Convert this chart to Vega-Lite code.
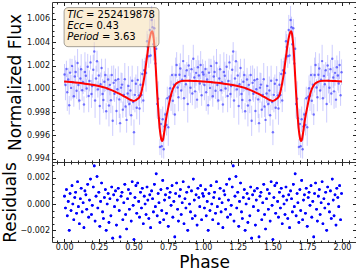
{
"$schema": "https://vega.github.io/schema/vega-lite/v6.json",
"background": "white",
"padding": {"left": 0, "top": 1, "right": 1, "bottom": 0},
"spacing": 0,
"bounds": "flush",
"config": {
  "font": "DejaVu Sans",
  "view": {"stroke": "#333", "strokeWidth": 1},
  "axis": {"domain": false, "grid": false, "labelFont": "DejaVu Sans", "labelFontSize": 8, "labelColor": "#111", "tickColor": "#222", "tickSize": -3, "labelPadding": 6, "labelOverlap": false, "titleFont": "DejaVu Sans", "titleFontSize": 17, "titleFontWeight": "normal", "titleColor": "#000"}
},
"datasets": {
  "obs": [
{"p":0.003,"f":1.00123,"e":0.0009,"r":0.0006},{"p":0.010,"f":1.00032,"e":0.0013,"r":-0.0003},{"p":0.017,"f":1.00171,"e":0.0007,"r":0.0011},{"p":0.023,"f":0.99970,"e":0.0016,"r":-0.0009},{"p":0.030,"f":1.00080,"e":0.0010,"r":0.0002},{"p":0.037,"f":0.99859,"e":0.0008,"r":-0.0020},{"p":0.043,"f":1.00139,"e":0.0012,"r":0.0008},{"p":0.050,"f":1.00008,"e":0.0011,"r":-0.0005},{"p":0.057,"f":1.00197,"e":0.0006,"r":0.0014},{"p":0.063,"f":1.00056,"e":0.0014,"r":0.0},
{"p":0.070,"f":0.99936,"e":0.0009,"r":-0.0012},{"p":0.077,"f":1.00105,"e":0.0018,"r":0.0005},{"p":0.083,"f":1.00144,"e":0.0010,"r":0.0009},{"p":0.090,"f":0.99983,"e":0.0007,"r":-0.0007},{"p":0.097,"f":1.00222,"e":0.0012,"r":0.0017},{"p":0.103,"f":1.00032,"e":0.0015,"r":-0.0002},{"p":0.110,"f":0.99900,"e":0.0008,"r":-0.0015},{"p":0.117,"f":1.00089,"e":0.0011,"r":0.0004},{"p":0.123,"f":1.00168,"e":0.0013,"r":0.0012},{"p":0.130,"f":0.99987,"e":0.0009,"r":-0.0006},
{"p":0.137,"f":1.00056,"e":0.0010,"r":0.0001},{"p":0.143,"f":0.99865,"e":0.0007,"r":-0.0018},{"p":0.150,"f":1.00144,"e":0.0017,"r":0.0010},{"p":0.157,"f":1.00113,"e":0.0012,"r":0.0007},{"p":0.163,"f":1.00002,"e":0.0008,"r":-0.0004},{"p":0.170,"f":1.00190,"e":0.0011,"r":0.0015},{"p":0.177,"f":0.99939,"e":0.0014,"r":-0.0010},{"p":0.183,"f":1.00068,"e":0.0009,"r":0.0003},{"p":0.190,"f":1.00227,"e":0.0006,"r":0.0019},{"p":0.197,"f":0.99956,"e":0.0012,"r":-0.0008},
{"p":0.203,"f":1.00024,"e":0.0010,"r":-0.0001},{"p":0.210,"f":1.00163,"e":0.0013,"r":0.0013},{"p":0.217,"f":1.00321,"e":0.0008,"r":0.0029},{"p":0.223,"f":0.99900,"e":0.0015,"r":-0.0013},{"p":0.230,"f":1.00088,"e":0.0011,"r":0.0006},{"p":0.237,"f":1.00237,"e":0.0009,"r":0.0021},{"p":0.243,"f":0.99995,"e":0.0007,"r":-0.0003},{"p":0.250,"f":1.00114,"e":0.0012,"r":0.0009},{"p":0.257,"f":0.99852,"e":0.0016,"r":-0.0017},{"p":0.263,"f":1.00040,"e":0.0010,"r":0.0002},
{"p":0.270,"f":1.00178,"e":0.0008,"r":0.0016},{"p":0.277,"f":0.99955,"e":0.0013,"r":-0.0006},{"p":0.283,"f":0.99903,"e":0.0011,"r":-0.0011},{"p":0.290,"f":1.00061,"e":0.0009,"r":0.0005},{"p":0.297,"f":1.00119,"e":0.0014,"r":0.0011},{"p":0.303,"f":0.99807,"e":0.0007,"r":-0.0020},{"p":0.310,"f":1.00003,"e":0.0012,"r":0.0},{"p":0.317,"f":1.00080,"e":0.0010,"r":0.0008},{"p":0.323,"f":0.99857,"e":0.0018,"r":-0.0014},{"p":0.330,"f":1.00034,"e":0.0009,"r":0.0004},
{"p":0.337,"f":0.99901,"e":0.0011,"r":-0.0009},{"p":0.343,"f":1.00118,"e":0.0008,"r":0.0013},{"p":0.350,"f":0.99725,"e":0.0013,"r":-0.0026},{"p":0.357,"f":1.00051,"e":0.0015,"r":0.0007},{"p":0.363,"f":0.99958,"e":0.0007,"r":-0.0002},{"p":0.370,"f":1.00074,"e":0.0010,"r":0.0010},{"p":0.377,"f":0.99810,"e":0.0012,"r":-0.0016},{"p":0.383,"f":0.99997,"e":0.0009,"r":0.0003},{"p":0.390,"f":1.00083,"e":0.0011,"r":0.0012},{"p":0.397,"f":0.99909,"e":0.0016,"r":-0.0005},
{"p":0.403,"f":0.99705,"e":0.0008,"r":-0.0025},{"p":0.410,"f":1.00010,"e":0.0013,"r":0.0006},{"p":0.417,"f":1.00036,"e":0.0010,"r":0.0009},{"p":0.423,"f":0.99821,"e":0.0007,"r":-0.0012},{"p":0.430,"f":0.99947,"e":0.0012,"r":0.0001},{"p":0.437,"f":1.00082,"e":0.0014,"r":0.0015},{"p":0.443,"f":0.99848,"e":0.0009,"r":-0.0008},{"p":0.450,"f":0.99733,"e":0.0011,"r":-0.0019},{"p":0.457,"f":0.99959,"e":0.0008,"r":0.0004},{"p":0.463,"f":1.00025,"e":0.0017,"r":0.0011},
{"p":0.470,"f":0.99870,"e":0.0010,"r":-0.0004},{"p":0.477,"f":0.99986,"e":0.0012,"r":0.0008},{"p":0.483,"f":0.99773,"e":0.0009,"r":-0.0013},{"p":0.490,"f":1.00069,"e":0.0013,"r":0.0017},{"p":0.497,"f":0.99887,"e":0.0007,"r":-0.0001},{"p":0.503,"f":0.99626,"e":0.0011,"r":-0.0027},{"p":0.510,"f":0.99948,"e":0.0015,"r":0.0005},{"p":0.517,"f":1.00043,"e":0.0008,"r":0.0014},{"p":0.523,"f":0.99838,"e":0.0010,"r":-0.0007},{"p":0.530,"f":1.00075,"e":0.0012,"r":0.0016},
{"p":0.537,"f":0.99942,"e":0.0009,"r":0.0002},{"p":0.543,"f":0.99831,"e":0.0014,"r":-0.0010},{"p":0.550,"f":1.00035,"e":0.0011,"r":0.0009},{"p":0.557,"f":0.99946,"e":0.0007,"r":-0.0003},{"p":0.563,"f":1.00128,"e":0.0013,"r":0.0012},{"p":0.570,"f":0.99900,"e":0.0010,"r":-0.0015},{"p":0.577,"f":1.00159,"e":0.0008,"r":0.0006},{"p":0.583,"f":1.00148,"e":0.0012,"r":0.0},{"p":0.590,"f":1.00135,"e":0.0016,"r":-0.0008},{"p":0.597,"f":1.00408,"e":0.0009,"r":0.0013},
{"p":0.603,"f":1.00360,"e":0.0011,"r":0.0003},{"p":0.610,"f":1.00280,"e":0.0010,"r":-0.0011},{"p":0.617,"f":1.00505,"e":0.0013,"r":0.0007},{"p":0.623,"f":1.00286,"e":0.0007,"r":-0.0018},{"p":0.630,"f":1.00592,"e":0.0012,"r":0.0010},{"p":0.637,"f":1.00530,"e":0.0009,"r":0.0004},{"p":0.643,"f":1.00383,"e":0.0014,"r":-0.0006},{"p":0.650,"f":1.00520,"e":0.0008,"r":0.0015},{"p":0.657,"f":1.00217,"e":0.0011,"r":-0.0002},{"p":0.663,"f":1.00344,"e":0.0010,"r":0.0023},
{"p":0.670,"f":0.99870,"e":0.0012,"r":-0.0009},{"p":0.677,"f":0.99914,"e":0.0015,"r":0.0008},{"p":0.683,"f":0.99748,"e":0.0009,"r":0.0001},{"p":0.690,"f":0.99500,"e":0.0007,"r":-0.0014},{"p":0.697,"f":0.99697,"e":0.0013,"r":0.0011},{"p":0.703,"f":0.99507,"e":0.0010,"r":-0.0005},{"p":0.710,"f":0.99738,"e":0.0011,"r":0.0018},{"p":0.717,"f":0.99481,"e":0.0008,"r":-0.0012},{"p":0.723,"f":0.99677,"e":0.0012,"r":0.0003},{"p":0.730,"f":0.99780,"e":0.0014,"r":0.0007},
{"p":0.737,"f":0.99689,"e":0.0009,"r":-0.0007},{"p":0.743,"f":0.99918,"e":0.0010,"r":0.0012},{"p":0.750,"f":0.99670,"e":0.0016,"r":-0.0017},{"p":0.757,"f":0.99932,"e":0.0007,"r":0.0005},{"p":0.763,"f":1.00005,"e":0.0011,"r":0.0009},{"p":0.770,"f":0.99940,"e":0.0013,"r":-0.0001},{"p":0.777,"f":1.00118,"e":0.0008,"r":0.0014},{"p":0.783,"f":0.99897,"e":0.0012,"r":-0.0010},{"p":0.790,"f":1.00035,"e":0.0010,"r":0.0002},{"p":0.797,"f":0.99779,"e":0.0009,"r":-0.0025},
{"p":0.803,"f":1.00118,"e":0.0015,"r":0.0008},{"p":0.810,"f":1.00205,"e":0.0011,"r":0.0016},{"p":0.817,"f":1.00012,"e":0.0007,"r":-0.0004},{"p":0.823,"f":0.99927,"e":0.0012,"r":-0.0013},{"p":0.830,"f":1.00121,"e":0.0010,"r":0.0006},{"p":0.837,"f":1.00174,"e":0.0013,"r":0.0011},{"p":0.843,"f":0.99986,"e":0.0008,"r":-0.0008},{"p":0.850,"f":1.00077,"e":0.0009,"r":0.0001},{"p":0.857,"f":1.00238,"e":0.0014,"r":0.0017},{"p":0.863,"f":0.99919,"e":0.0011,"r":-0.0015},
{"p":0.870,"f":1.00110,"e":0.0010,"r":0.0004},{"p":0.877,"f":1.00040,"e":0.0012,"r":-0.0003},{"p":0.883,"f":1.00160,"e":0.0007,"r":0.0009},{"p":0.890,"f":0.99870,"e":0.0016,"r":-0.0020},{"p":0.897,"f":1.00200,"e":0.0009,"r":0.0013},{"p":0.903,"f":1.00070,"e":0.0011,"r":0.0},{"p":0.910,"f":1.00009,"e":0.0013,"r":-0.0006},{"p":0.917,"f":1.00169,"e":0.0008,"r":0.0010},{"p":0.923,"f":0.99959,"e":0.0010,"r":-0.0011},{"p":0.930,"f":1.00258,"e":0.0012,"r":0.0019},
{"p":0.937,"f":1.00098,"e":0.0009,"r":0.0003},{"p":0.943,"f":0.99978,"e":0.0015,"r":-0.0009},{"p":0.950,"f":1.00137,"e":0.0011,"r":0.0007},{"p":0.957,"f":0.99907,"e":0.0007,"r":-0.0016},{"p":0.963,"f":1.00186,"e":0.0010,"r":0.0012},{"p":0.970,"f":1.00115,"e":0.0013,"r":0.0005},{"p":0.977,"f":1.00045,"e":0.0008,"r":-0.0002},{"p":0.983,"f":1.00204,"e":0.0012,"r":0.0014},{"p":0.990,"f":0.99944,"e":0.0009,"r":-0.0012},{"p":0.997,"f":1.00143,"e":0.0011,"r":0.0008},
{"p":1.003,"f":1.00123,"e":0.0009,"r":0.0006},{"p":1.010,"f":1.00032,"e":0.0013,"r":-0.0003},{"p":1.017,"f":1.00171,"e":0.0007,"r":0.0011},{"p":1.023,"f":0.99970,"e":0.0016,"r":-0.0009},{"p":1.030,"f":1.00080,"e":0.0010,"r":0.0002},{"p":1.037,"f":0.99859,"e":0.0008,"r":-0.0020},{"p":1.043,"f":1.00139,"e":0.0012,"r":0.0008},{"p":1.050,"f":1.00008,"e":0.0011,"r":-0.0005},{"p":1.057,"f":1.00197,"e":0.0006,"r":0.0014},{"p":1.063,"f":1.00056,"e":0.0014,"r":0.0},
{"p":1.070,"f":0.99936,"e":0.0009,"r":-0.0012},{"p":1.077,"f":1.00105,"e":0.0018,"r":0.0005},{"p":1.083,"f":1.00144,"e":0.0010,"r":0.0009},{"p":1.090,"f":0.99983,"e":0.0007,"r":-0.0007},{"p":1.097,"f":1.00222,"e":0.0012,"r":0.0017},{"p":1.103,"f":1.00032,"e":0.0015,"r":-0.0002},{"p":1.110,"f":0.99900,"e":0.0008,"r":-0.0015},{"p":1.117,"f":1.00089,"e":0.0011,"r":0.0004},{"p":1.123,"f":1.00168,"e":0.0013,"r":0.0012},{"p":1.130,"f":0.99987,"e":0.0009,"r":-0.0006},
{"p":1.137,"f":1.00056,"e":0.0010,"r":0.0001},{"p":1.143,"f":0.99865,"e":0.0007,"r":-0.0018},{"p":1.150,"f":1.00144,"e":0.0017,"r":0.0010},{"p":1.157,"f":1.00113,"e":0.0012,"r":0.0007},{"p":1.163,"f":1.00002,"e":0.0008,"r":-0.0004},{"p":1.170,"f":1.00190,"e":0.0011,"r":0.0015},{"p":1.177,"f":0.99939,"e":0.0014,"r":-0.0010},{"p":1.183,"f":1.00068,"e":0.0009,"r":0.0003},{"p":1.190,"f":1.00227,"e":0.0006,"r":0.0019},{"p":1.197,"f":0.99956,"e":0.0012,"r":-0.0008},
{"p":1.203,"f":1.00024,"e":0.0010,"r":-0.0001},{"p":1.210,"f":1.00163,"e":0.0013,"r":0.0013},{"p":1.217,"f":1.00321,"e":0.0008,"r":0.0029},{"p":1.223,"f":0.99900,"e":0.0015,"r":-0.0013},{"p":1.230,"f":1.00088,"e":0.0011,"r":0.0006},{"p":1.237,"f":1.00237,"e":0.0009,"r":0.0021},{"p":1.243,"f":0.99995,"e":0.0007,"r":-0.0003},{"p":1.250,"f":1.00114,"e":0.0012,"r":0.0009},{"p":1.257,"f":0.99852,"e":0.0016,"r":-0.0017},{"p":1.263,"f":1.00040,"e":0.0010,"r":0.0002},
{"p":1.270,"f":1.00178,"e":0.0008,"r":0.0016},{"p":1.277,"f":0.99955,"e":0.0013,"r":-0.0006},{"p":1.283,"f":0.99903,"e":0.0011,"r":-0.0011},{"p":1.290,"f":1.00061,"e":0.0009,"r":0.0005},{"p":1.297,"f":1.00119,"e":0.0014,"r":0.0011},{"p":1.303,"f":0.99807,"e":0.0007,"r":-0.0020},{"p":1.310,"f":1.00003,"e":0.0012,"r":0.0},{"p":1.317,"f":1.00080,"e":0.0010,"r":0.0008},{"p":1.323,"f":0.99857,"e":0.0018,"r":-0.0014},{"p":1.330,"f":1.00034,"e":0.0009,"r":0.0004},
{"p":1.337,"f":0.99901,"e":0.0011,"r":-0.0009},{"p":1.343,"f":1.00118,"e":0.0008,"r":0.0013},{"p":1.350,"f":0.99725,"e":0.0013,"r":-0.0026},{"p":1.357,"f":1.00051,"e":0.0015,"r":0.0007},{"p":1.363,"f":0.99958,"e":0.0007,"r":-0.0002},{"p":1.370,"f":1.00074,"e":0.0010,"r":0.0010},{"p":1.377,"f":0.99810,"e":0.0012,"r":-0.0016},{"p":1.383,"f":0.99997,"e":0.0009,"r":0.0003},{"p":1.390,"f":1.00083,"e":0.0011,"r":0.0012},{"p":1.397,"f":0.99909,"e":0.0016,"r":-0.0005},
{"p":1.403,"f":0.99705,"e":0.0008,"r":-0.0025},{"p":1.410,"f":1.00010,"e":0.0013,"r":0.0006},{"p":1.417,"f":1.00036,"e":0.0010,"r":0.0009},{"p":1.423,"f":0.99821,"e":0.0007,"r":-0.0012},{"p":1.430,"f":0.99947,"e":0.0012,"r":0.0001},{"p":1.437,"f":1.00082,"e":0.0014,"r":0.0015},{"p":1.443,"f":0.99848,"e":0.0009,"r":-0.0008},{"p":1.450,"f":0.99733,"e":0.0011,"r":-0.0019},{"p":1.457,"f":0.99959,"e":0.0008,"r":0.0004},{"p":1.463,"f":1.00025,"e":0.0017,"r":0.0011},
{"p":1.470,"f":0.99870,"e":0.0010,"r":-0.0004},{"p":1.477,"f":0.99986,"e":0.0012,"r":0.0008},{"p":1.483,"f":0.99773,"e":0.0009,"r":-0.0013},{"p":1.490,"f":1.00069,"e":0.0013,"r":0.0017},{"p":1.497,"f":0.99887,"e":0.0007,"r":-0.0001},{"p":1.503,"f":0.99626,"e":0.0011,"r":-0.0027},{"p":1.510,"f":0.99948,"e":0.0015,"r":0.0005},{"p":1.517,"f":1.00043,"e":0.0008,"r":0.0014},{"p":1.523,"f":0.99838,"e":0.0010,"r":-0.0007},{"p":1.530,"f":1.00075,"e":0.0012,"r":0.0016},
{"p":1.537,"f":0.99942,"e":0.0009,"r":0.0002},{"p":1.543,"f":0.99831,"e":0.0014,"r":-0.0010},{"p":1.550,"f":1.00035,"e":0.0011,"r":0.0009},{"p":1.557,"f":0.99946,"e":0.0007,"r":-0.0003},{"p":1.563,"f":1.00128,"e":0.0013,"r":0.0012},{"p":1.570,"f":0.99900,"e":0.0010,"r":-0.0015},{"p":1.577,"f":1.00159,"e":0.0008,"r":0.0006},{"p":1.583,"f":1.00148,"e":0.0012,"r":0.0},{"p":1.590,"f":1.00135,"e":0.0016,"r":-0.0008},{"p":1.597,"f":1.00408,"e":0.0009,"r":0.0013},
{"p":1.603,"f":1.00360,"e":0.0011,"r":0.0003},{"p":1.610,"f":1.00280,"e":0.0010,"r":-0.0011},{"p":1.617,"f":1.00505,"e":0.0013,"r":0.0007},{"p":1.623,"f":1.00286,"e":0.0007,"r":-0.0018},{"p":1.630,"f":1.00592,"e":0.0012,"r":0.0010},{"p":1.637,"f":1.00530,"e":0.0009,"r":0.0004},{"p":1.643,"f":1.00383,"e":0.0014,"r":-0.0006},{"p":1.650,"f":1.00520,"e":0.0008,"r":0.0015},{"p":1.657,"f":1.00217,"e":0.0011,"r":-0.0002},{"p":1.663,"f":1.00344,"e":0.0010,"r":0.0023},
{"p":1.670,"f":0.99870,"e":0.0012,"r":-0.0009},{"p":1.677,"f":0.99914,"e":0.0015,"r":0.0008},{"p":1.683,"f":0.99748,"e":0.0009,"r":0.0001},{"p":1.690,"f":0.99500,"e":0.0007,"r":-0.0014},{"p":1.697,"f":0.99697,"e":0.0013,"r":0.0011},{"p":1.703,"f":0.99507,"e":0.0010,"r":-0.0005},{"p":1.710,"f":0.99738,"e":0.0011,"r":0.0018},{"p":1.717,"f":0.99481,"e":0.0008,"r":-0.0012},{"p":1.723,"f":0.99677,"e":0.0012,"r":0.0003},{"p":1.730,"f":0.99780,"e":0.0014,"r":0.0007},
{"p":1.737,"f":0.99689,"e":0.0009,"r":-0.0007},{"p":1.743,"f":0.99918,"e":0.0010,"r":0.0012},{"p":1.750,"f":0.99670,"e":0.0016,"r":-0.0017},{"p":1.757,"f":0.99932,"e":0.0007,"r":0.0005},{"p":1.763,"f":1.00005,"e":0.0011,"r":0.0009},{"p":1.770,"f":0.99940,"e":0.0013,"r":-0.0001},{"p":1.777,"f":1.00118,"e":0.0008,"r":0.0014},{"p":1.783,"f":0.99897,"e":0.0012,"r":-0.0010},{"p":1.790,"f":1.00035,"e":0.0010,"r":0.0002},{"p":1.797,"f":0.99779,"e":0.0009,"r":-0.0025},
{"p":1.803,"f":1.00118,"e":0.0015,"r":0.0008},{"p":1.810,"f":1.00205,"e":0.0011,"r":0.0016},{"p":1.817,"f":1.00012,"e":0.0007,"r":-0.0004},{"p":1.823,"f":0.99927,"e":0.0012,"r":-0.0013},{"p":1.830,"f":1.00121,"e":0.0010,"r":0.0006},{"p":1.837,"f":1.00174,"e":0.0013,"r":0.0011},{"p":1.843,"f":0.99986,"e":0.0008,"r":-0.0008},{"p":1.850,"f":1.00077,"e":0.0009,"r":0.0001},{"p":1.857,"f":1.00238,"e":0.0014,"r":0.0017},{"p":1.863,"f":0.99919,"e":0.0011,"r":-0.0015},
{"p":1.870,"f":1.00110,"e":0.0010,"r":0.0004},{"p":1.877,"f":1.00040,"e":0.0012,"r":-0.0003},{"p":1.883,"f":1.00160,"e":0.0007,"r":0.0009},{"p":1.890,"f":0.99870,"e":0.0016,"r":-0.0020},{"p":1.897,"f":1.00200,"e":0.0009,"r":0.0013},{"p":1.903,"f":1.00070,"e":0.0011,"r":0.0},{"p":1.910,"f":1.00009,"e":0.0013,"r":-0.0006},{"p":1.917,"f":1.00169,"e":0.0008,"r":0.0010},{"p":1.923,"f":0.99959,"e":0.0010,"r":-0.0011},{"p":1.930,"f":1.00258,"e":0.0012,"r":0.0019},
{"p":1.937,"f":1.00098,"e":0.0009,"r":0.0003},{"p":1.943,"f":0.99978,"e":0.0015,"r":-0.0009},{"p":1.950,"f":1.00137,"e":0.0011,"r":0.0007},{"p":1.957,"f":0.99907,"e":0.0007,"r":-0.0016},{"p":1.963,"f":1.00186,"e":0.0010,"r":0.0012},{"p":1.970,"f":1.00115,"e":0.0013,"r":0.0005},{"p":1.977,"f":1.00045,"e":0.0008,"r":-0.0002},{"p":1.983,"f":1.00204,"e":0.0012,"r":0.0014},{"p":1.990,"f":0.99944,"e":0.0009,"r":-0.0012},{"p":1.997,"f":1.00143,"e":0.0011,"r":0.0008}
  ],
  "model": [
{"p":0.00,"f":1.00063},{"p":0.05,"f":1.00058},{"p":0.10,"f":1.00052},{"p":0.15,"f":1.00044},{"p":0.20,"f":1.00035},{"p":0.25,"f":1.00024},{"p":0.30,"f":1.00008},{"p":0.35,"f":0.99985},{"p":0.40,"f":0.99957},{"p":0.44,"f":0.99930},{"p":0.47,"f":0.99910},{"p":0.49,"f":0.99899},{"p":0.50,"f":0.99896},{"p":0.51,"f":0.99898},{"p":0.52,"f":0.99905},{"p":0.53,"f":0.99915},{"p":0.54,"f":0.99925},{"p":0.55,"f":0.99945},{"p":0.56,"f":0.99990},{"p":0.57,"f":1.00050},{"p":0.58,"f":1.00120},{"p":0.59,"f":1.00215},{"p":0.60,"f":1.00305},{"p":0.61,"f":1.00390},{"p":0.62,"f":1.00455},{"p":0.63,"f":1.00492},{"p":0.635,"f":1.00494},{"p":0.64,"f":1.00475},{"p":0.65,"f":1.00370},{"p":0.66,"f":1.00180},{"p":0.67,"f":0.99960},{"p":0.68,"f":0.99780},{"p":0.69,"f":0.99640},{"p":0.70,"f":0.99565},{"p":0.705,"f":0.99552},{"p":0.71,"f":0.99558},{"p":0.72,"f":0.99620},{"p":0.73,"f":0.99710},{"p":0.74,"f":0.99780},{"p":0.75,"f":0.99840},{"p":0.76,"f":0.99900},{"p":0.77,"f":0.99950},{"p":0.78,"f":0.99990},{"p":0.79,"f":1.00015},{"p":0.80,"f":1.00035},{"p":0.82,"f":1.00055},{"p":0.84,"f":1.00066},{"p":0.87,"f":1.00070},{"p":0.90,"f":1.00070},{"p":0.95,"f":1.00067},
{"p":1.00,"f":1.00063},{"p":1.05,"f":1.00058},{"p":1.10,"f":1.00052},{"p":1.15,"f":1.00044},{"p":1.20,"f":1.00035},{"p":1.25,"f":1.00024},{"p":1.30,"f":1.00008},{"p":1.35,"f":0.99985},{"p":1.40,"f":0.99957},{"p":1.44,"f":0.99930},{"p":1.47,"f":0.99910},{"p":1.49,"f":0.99899},{"p":1.50,"f":0.99896},{"p":1.51,"f":0.99898},{"p":1.52,"f":0.99905},{"p":1.53,"f":0.99915},{"p":1.54,"f":0.99925},{"p":1.55,"f":0.99945},{"p":1.56,"f":0.99990},{"p":1.57,"f":1.00050},{"p":1.58,"f":1.00120},{"p":1.59,"f":1.00215},{"p":1.60,"f":1.00305},{"p":1.61,"f":1.00390},{"p":1.62,"f":1.00455},{"p":1.63,"f":1.00492},{"p":1.635,"f":1.00494},{"p":1.64,"f":1.00475},{"p":1.65,"f":1.00370},{"p":1.66,"f":1.00180},{"p":1.67,"f":0.99960},{"p":1.68,"f":0.99780},{"p":1.69,"f":0.99640},{"p":1.70,"f":0.99565},{"p":1.705,"f":0.99552},{"p":1.71,"f":0.99558},{"p":1.72,"f":0.99620},{"p":1.73,"f":0.99710},{"p":1.74,"f":0.99780},{"p":1.75,"f":0.99840},{"p":1.76,"f":0.99900},{"p":1.77,"f":0.99950},{"p":1.78,"f":0.99990},{"p":1.79,"f":1.00015},{"p":1.80,"f":1.00035},{"p":1.82,"f":1.00055},{"p":1.84,"f":1.00066},{"p":1.87,"f":1.00070},{"p":1.90,"f":1.00070},{"p":1.95,"f":1.00067},{"p":2.00,"f":1.00063}
  ],
  "labels": [
{"p":0.022,"f":1.00638,"t":"TIC"},{"p":0.022,"f":1.00543,"t":"Ecc"},{"p":0.022,"f":1.00448,"t":"Period"}
  ],
  "values": [
{"p":0.158,"f":1.00638,"t":"= 252419878"},{"p":0.150,"f":1.00543,"t":"= 0.43"},{"p":0.272,"f":1.00448,"t":"= 3.63"}
  ]
},
"vconcat": [
  {
    "width": 304, "height": 160,
    "resolve": {"axis": {"x": "independent", "y": "independent"}},
    "layer": [
      {
        "data": {"name": "obs"},
        "mark": {"type": "errorbar", "ticks": false, "rule": {"color": "#3a3aff", "opacity": 0.26, "strokeWidth": 1}},
        "encoding": {
          "x": {"field": "p", "type": "quantitative", "scale": {"domain": [-0.087, 2.101], "nice": false, "zero": false},
                "axis": {"orient": "bottom", "values": [-0.05,0,0.05,0.1,0.15,0.2,0.25,0.3,0.35,0.4,0.45,0.5,0.55,0.6,0.65,0.7,0.75,0.8,0.85,0.9,0.95,1,1.05,1.1,1.15,1.2,1.25,1.3,1.35,1.4,1.45,1.5,1.55,1.6,1.65,1.7,1.75,1.8,1.85,1.9,1.95,2,2.05,2.1], "labels": false, "title": null,
                         "tickSize": {"condition": {"test": "abs(datum.value*4-round(datum.value*4))<0.001", "value": -3.5}, "value": -2}}},
          "y": {"field": "f", "type": "quantitative", "scale": {"domain": [0.99371, 1.00746], "nice": false, "zero": false},
                "axis": {"orient": "left", "values": [0.994,0.9945,0.995,0.9955,0.996,0.9965,0.997,0.9975,0.998,0.9985,0.999,0.9995,1.0,1.0005,1.001,1.0015,1.002,1.0025,1.003,1.0035,1.004,1.0045,1.005,1.0055,1.006,1.0065,1.007],
                         "labelExpr": "abs(datum.value*500-round(datum.value*500))<0.01 ? format(datum.value,'.3f') : ''",
                         "tickSize": {"condition": {"test": "abs(datum.value*500-round(datum.value*500))<0.01", "value": -3.5}, "value": -2},
                         "title": "Normalized Flux", "titlePadding": 2.5, "labelPadding": 6}},
          "yError": {"field": "e"}
        }
      },
      {
        "data": {"name": "obs"},
        "mark": {"type": "point", "filled": true, "size": 6, "color": "#0000ff", "opacity": 0.5},
        "encoding": {
          "x": {"field": "p", "type": "quantitative", "scale": {"domain": [-0.087, 2.101], "nice": false, "zero": false},
                "axis": {"orient": "top", "values": [-0.05,0,0.05,0.1,0.15,0.2,0.25,0.3,0.35,0.4,0.45,0.5,0.55,0.6,0.65,0.7,0.75,0.8,0.85,0.9,0.95,1,1.05,1.1,1.15,1.2,1.25,1.3,1.35,1.4,1.45,1.5,1.55,1.6,1.65,1.7,1.75,1.8,1.85,1.9,1.95,2,2.05,2.1], "labels": false, "title": null,
                         "tickSize": {"condition": {"test": "abs(datum.value*4-round(datum.value*4))<0.001", "value": -3.5}, "value": -2}}},
          "y": {"field": "f", "type": "quantitative", "scale": {"domain": [0.99371, 1.00746], "nice": false, "zero": false},
                "axis": {"orient": "right", "values": [0.994,0.9945,0.995,0.9955,0.996,0.9965,0.997,0.9975,0.998,0.9985,0.999,0.9995,1.0,1.0005,1.001,1.0015,1.002,1.0025,1.003,1.0035,1.004,1.0045,1.005,1.0055,1.006,1.0065,1.007], "labels": false, "title": null,
                         "tickSize": {"condition": {"test": "abs(datum.value*500-round(datum.value*500))<0.01", "value": -3.5}, "value": -2}}}
        }
      },
      {
        "data": {"name": "model"},
        "mark": {"type": "line", "color": "#ff0000", "strokeWidth": 2, "interpolate": "monotone"},
        "encoding": {
          "x": {"field": "p", "type": "quantitative", "scale": {"domain": [-0.087, 2.101], "nice": false, "zero": false}, "axis": null},
          "y": {"field": "f", "type": "quantitative", "scale": {"domain": [0.99371, 1.00746], "nice": false, "zero": false}, "axis": null}
        }
      },
      {
        "data": {"values": [{}]},
        "mark": {"type": "rect", "fill": "#f5deb3", "fillOpacity": 0.55, "stroke": "#000", "strokeOpacity": 0.35, "strokeWidth": 1, "cornerRadius": 4},
        "encoding": {
          "x": {"datum": 0.0, "type": "quantitative", "axis": null}, "x2": {"datum": 0.683},
          "y": {"datum": 1.00698, "type": "quantitative", "axis": null}, "y2": {"datum": 1.00362}
        }
      },
      {
        "data": {"name": "labels"},
        "mark": {"type": "text", "align": "left", "baseline": "middle", "font": "DejaVu Sans", "fontStyle": "italic", "fontSize": 10, "color": "#000"},
        "encoding": {
          "x": {"field": "p", "type": "quantitative", "axis": null},
          "y": {"field": "f", "type": "quantitative", "axis": null},
          "text": {"field": "t"}
        }
      },
      {
        "data": {"name": "values"},
        "mark": {"type": "text", "align": "left", "baseline": "middle", "font": "DejaVu Sans", "fontSize": 10, "color": "#000"},
        "encoding": {
          "x": {"field": "p", "type": "quantitative", "axis": null},
          "y": {"field": "f", "type": "quantitative", "axis": null},
          "text": {"field": "t"}
        }
      }
    ]
  },
  {
    "width": 304, "height": 80,
    "data": {"name": "obs"},
    "resolve": {"axis": {"x": "independent", "y": "independent"}},
    "layer": [
      {
        "mark": {"type": "point", "filled": true, "size": 7, "color": "#0000ff", "opacity": 1},
        "encoding": {
          "x": {"field": "p", "type": "quantitative", "scale": {"domain": [-0.087, 2.101], "nice": false, "zero": false},
                "axis": {"orient": "bottom", "values": [-0.05,0,0.05,0.1,0.15,0.2,0.25,0.3,0.35,0.4,0.45,0.5,0.55,0.6,0.65,0.7,0.75,0.8,0.85,0.9,0.95,1,1.05,1.1,1.15,1.2,1.25,1.3,1.35,1.4,1.45,1.5,1.55,1.6,1.65,1.7,1.75,1.8,1.85,1.9,1.95,2,2.05,2.1],
                         "labelExpr": "abs(datum.value*4-round(datum.value*4))<0.001 ? format(datum.value,'.2f') : ''",
                         "tickSize": {"condition": {"test": "abs(datum.value*4-round(datum.value*4))<0.001", "value": -3.5}, "value": -2},
                         "title": "Phase", "labelPadding": 5, "titlePadding": 1}},
          "y": {"field": "r", "type": "quantitative", "scale": {"domain": [-0.00289, 0.0032], "nice": false, "zero": false},
                "axis": {"orient": "left", "values": [-0.0025,-0.002,-0.0015,-0.001,-0.0005,0,0.0005,0.001,0.0015,0.002,0.0025,0.003],
                         "labelExpr": "abs(datum.value*500-round(datum.value*500))<0.01 ? format(datum.value,'.3f') : ''",
                         "tickSize": {"condition": {"test": "abs(datum.value*500-round(datum.value*500))<0.01", "value": -3.5}, "value": -2},
                         "title": "Residuals", "titlePadding": 0.5, "labelPadding": 6}}
        }
      },
      {
        "mark": {"type": "point", "filled": true, "size": 7, "color": "#0000ff", "opacity": 1},
        "encoding": {
          "x": {"field": "p", "type": "quantitative", "scale": {"domain": [-0.087, 2.101], "nice": false, "zero": false},
                "axis": {"orient": "top", "values": [-0.05,0,0.05,0.1,0.15,0.2,0.25,0.3,0.35,0.4,0.45,0.5,0.55,0.6,0.65,0.7,0.75,0.8,0.85,0.9,0.95,1,1.05,1.1,1.15,1.2,1.25,1.3,1.35,1.4,1.45,1.5,1.55,1.6,1.65,1.7,1.75,1.8,1.85,1.9,1.95,2,2.05,2.1], "labels": false, "title": null,
                         "tickSize": {"condition": {"test": "abs(datum.value*4-round(datum.value*4))<0.001", "value": -3.5}, "value": -2}}},
          "y": {"field": "r", "type": "quantitative", "scale": {"domain": [-0.00289, 0.0032], "nice": false, "zero": false},
                "axis": {"orient": "right", "values": [-0.0025,-0.002,-0.0015,-0.001,-0.0005,0,0.0005,0.001,0.0015,0.002,0.0025,0.003], "labels": false, "title": null,
                         "tickSize": {"condition": {"test": "abs(datum.value*500-round(datum.value*500))<0.01", "value": -3.5}, "value": -2}}}
        }
      }
    ]
  }
]
}
